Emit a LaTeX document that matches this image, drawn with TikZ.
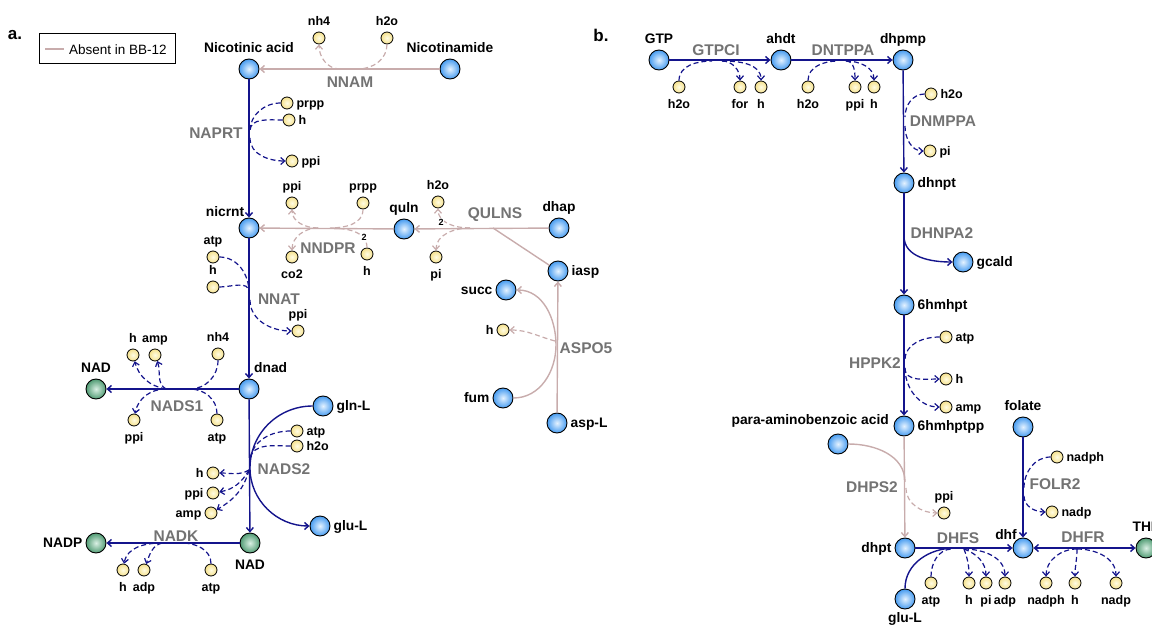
\documentclass[tikz,border=0pt]{standalone}
\usepackage{fontspec}
\setmainfont{Liberation Sans}
\usetikzlibrary{arrows.meta}
\definecolor{navyl}{RGB}{20,20,140}
\definecolor{pinkl}{RGB}{200,172,172}
\definecolor{enzg}{RGB}{115,115,115}
\definecolor{bin}{RGB}{228,242,255}
\definecolor{bout}{RGB}{70,155,240}
\definecolor{gin}{RGB}{218,240,228}
\definecolor{gout}{RGB}{80,155,115}
\definecolor{yin}{RGB}{255,252,228}
\definecolor{yout}{RGB}{245,225,140}
\begin{document}
\begin{tikzpicture}[x=1pt,y=-1pt,
  met/.style={circle,draw=black,line width=0.9pt,minimum size=20pt,inner sep=0pt,shading=radial,inner color=bin,outer color=bout},
  gmet/.style={met,inner color=gin,outer color=gout},
  cof/.style={circle,draw=black,line width=0.8pt,minimum size=12pt,inner sep=0pt,shading=radial,inner color=yin,outer color=yout},
  slab/.style={font=\fontsize{12.5}{14}\selectfont\bfseries,text height=9pt,text depth=0.5pt,inner sep=1pt},
  mlab/.style={font=\fontsize{13.8}{16}\selectfont\bfseries,text height=10pt,text depth=0.5pt,inner sep=1pt},
  side/.style={label distance=2pt},
  label distance=4.5pt,
  enz/.style={font=\fontsize{15.5}{17}\selectfont\bfseries,text=enzg,inner sep=0pt},
  num/.style={font=\fontsize{9}{10}\selectfont\bfseries,inner sep=0.5pt,fill=white},
  rx/.style={draw=navyl,line width=1.4pt},
  rxp/.style={draw=pinkl,line width=1.4pt},
  ds/.style={draw=navyl,line width=1.2pt,dash pattern=on 5pt off 3pt},
  dsp/.style={draw=pinkl,line width=1.2pt,dash pattern=on 5pt off 3pt},
  ar/.style={-{Straight Barb[length=4pt,width=7pt]}},
  ar2/.style={{Straight Barb[length=4pt,width=7pt]}-{Straight Barb[length=4pt,width=7pt]}},
]
\useasboundingbox (0,0) rectangle (1152,626);

% ---------------- panel a ----------------
\node[font=\fontsize{17}{19}\selectfont\bfseries] (pa) at (15,35) {a.};
\node[draw=black,line width=1pt,minimum width=136pt,minimum height=30pt,inner sep=0pt] (legend) at (107,48.5) {};
\coordinate (lg1) at (45,49);
\coordinate (lg2) at (64,49);
\draw[rxp,line width=2.2pt] (lg1) -- (lg2);
\node[font=\fontsize{13.5}{15}\selectfont,anchor=west,inner sep=0pt] (legtxt) at (69,49.5) {Absent in BB-12};

% metabolites
\node[met,label={[mlab]above:Nicotinic acid}] (nac) at (249,69) {};
\node[met,label={[mlab]above:Nicotinamide}] (nam) at (450,69) {};
\node[met] (nicrnt) at (249,228) {};
\node[mlab,anchor=base] (nicrnt_t) at (225,216.5) {nicrnt};
\node[met,label={[mlab]above:quln}] (quln) at (404,229) {};
\node[met,label={[mlab]above:dhap}] (dhap) at (559,228) {};
\node[met,label={[mlab,side]right:iasp}] (iasp) at (558,271) {};
\node[met,label={[mlab,side]left:succ}] (succ) at (506,290) {};
\node[met,label={[mlab,side]left:fum}] (fum) at (503,398) {};
\node[met,label={[mlab,side]right:asp-L}] (aspL) at (557,423) {};
\node[met] (dnad) at (249,389) {};
\node[mlab,anchor=base west] (dnad_t) at (253,372) {dnad};
\node[gmet,label={[mlab]above:NAD}] (NADa) at (96,389) {};
\node[met,label={[mlab,side]right:gln-L}] (glnL) at (323,406) {};
\node[met,label={[mlab,side]right:glu-L}] (gluL) at (320,526) {};
\node[gmet,label={[mlab]below:NAD}] (NADb) at (250,543) {};
\node[gmet,label={[mlab,side]left:NADP}] (NADP) at (96,543) {};

% cofactors
\node[cof,label={[slab]above:nh4}] (nnam_nh4) at (319,38) {};
\node[cof,label={[slab]above:h2o}] (nnam_h2o) at (387,38) {};
\node[cof,label={[slab,side]right:prpp}] (naprt_prpp) at (287,103) {};
\node[cof,label={[slab,side]right:h}] (naprt_h) at (289,120) {};
\node[cof,label={[slab,side]right:ppi}] (naprt_ppi) at (292,161) {};
\node[cof,label={[slab]above:ppi}] (nndpr_ppi) at (292,203) {};
\node[cof,label={[slab]above:prpp}] (nndpr_prpp) at (363,203) {};
\node[cof,label={[slab]below:co2}] (nndpr_co2) at (292,257) {};
\node[cof,label={[slab]below:h}] (nndpr_h) at (367,254) {};
\node[cof,label={[slab]above:h2o}] (qulns_h2o) at (438,202) {};
\node[cof,label={[slab]below:pi}] (qulns_pi) at (436,257) {};
\node[cof,label={[slab]above:atp}] (nnat_atp) at (213,257) {};
\node[cof,label={[slab]above:h}] (nnat_h) at (213,287) {};
\node[cof,label={[slab]above:ppi}] (nnat_ppi) at (298,331) {};
\node[cof,label={[slab]above:h}] (nads1_h) at (133,355) {};
\node[cof,label={[slab]above:amp}] (nads1_amp) at (155,355) {};
\node[cof,label={[slab]above:nh4}] (nads1_nh4) at (218,354) {};
\node[cof,label={[slab]below:ppi}] (nads1_ppi) at (134,420) {};
\node[cof,label={[slab]below:atp}] (nads1_atp) at (217,420) {};
\node[cof,label={[slab,side]right:atp}] (nads2_atp) at (297,431) {};
\node[cof,label={[slab,side]right:h2o}] (nads2_h2o) at (297,446) {};
\node[cof,label={[slab,side]left:h}] (nads2_h) at (213,473) {};
\node[cof,label={[slab,side]left:ppi}] (nads2_ppi) at (213,493) {};
\node[cof,label={[slab,side]left:amp}] (nads2_amp) at (211,513) {};
\node[cof,label={[slab]below:h}] (nadk_h) at (123,570) {};
\node[cof,label={[slab]below:adp}] (nadk_adp) at (144,570) {};
\node[cof,label={[slab]below:atp}] (nadk_atp) at (211,570) {};
\node[cof,label={[slab,side]left:h}] (aspo_h) at (503,330) {};

% enzymes
\node[enz] (e_nnam) at (350,82) {NNAM};
\node[enz] (e_naprt) at (216,133) {NAPRT};
\node[enz] (e_nndpr) at (328,248) {NNDPR};
\node[enz] (e_qulns) at (495,215) {QULNS};
\node[enz] (e_nnat) at (279,299) {NNAT};
\node[enz] (e_aspo) at (586,348) {ASPO5};
\node[enz] (e_nads1) at (177,406) {NADS1};
\node[enz] (e_nads2) at (284,469) {NADS2};
\node[enz] (e_nadk) at (176,536) {NADK};

% NNAM
\draw[rxp,ar] (nam) -- (nac);
\coordinate (nnam_in) at (358,69);
\coordinate (nnam_out) at (340,69);
\draw[dsp] (nnam_h2o) to[out=270,in=0] (nnam_in);
\draw[dsp,ar] (nnam_out) to[out=180,in=270] (nnam_nh4);
% NAPRT
\draw[rx,ar] (nac) -- (nicrnt);
\coordinate (naprt_in) at (250,131);
\coordinate (naprt_out) at (250,138);
\draw[ds] (naprt_prpp) to[out=180,in=90] (naprt_in);
\draw[ds] (naprt_h) to[out=180,in=90] (naprt_in);
\draw[ds,ar] (naprt_out) to[out=270,in=180] (naprt_ppi);
% NNDPR
\draw[rxp,ar] (quln) -- (nicrnt);
\coordinate (nndpr_in) at (330,228);
\coordinate (nndpr_out) at (318,228);
\draw[dsp] (nndpr_prpp) to[out=270,in=0] (nndpr_in);
\draw[dsp] (nndpr_h) to[out=90,in=0] (nndpr_in);
\draw[dsp,ar] (nndpr_out) to[out=180,in=270] (nndpr_ppi);
\draw[dsp,ar] (nndpr_out) to[out=180,in=90] (nndpr_co2);
\node[num] (nndpr_2) at (364,237) {2};
% QULNS
\draw[rxp,ar] (dhap) -- (quln);
\coordinate (qulns_j) at (493,228);
\draw[rxp] (iasp) -- (qulns_j);
\coordinate (qulns_out) at (470,228);
\draw[dsp,ar] (qulns_out) to[out=180,in=270] (qulns_h2o);
\draw[dsp,ar] (qulns_out) to[out=180,in=90] (qulns_pi);
\node[num] (qulns_2) at (441,222) {2};
% NNAT
\draw[rx,ar] (nicrnt) -- (dnad);
\coordinate (nnat_in) at (249,292);
\coordinate (nnat_out) at (250,300);
\draw[ds] (nnat_atp) to[out=0,in=90] (nnat_in);
\draw[ds] (nnat_h) to[out=0,in=90] (nnat_in);
\draw[ds,ar] (nnat_out) to[out=270,in=180] (nnat_ppi);
% NADS1
\draw[rx,ar] (dnad) -- (NADa);
\coordinate (nads1_in) at (190,389);
\coordinate (nads1_out) at (166,389);
\draw[ds] (nads1_nh4) to[out=270,in=0] (nads1_in);
\draw[ds] (nads1_atp) to[out=90,in=0] (nads1_in);
\draw[ds,ar] (nads1_out) to[out=170,in=285] (nads1_h);
\draw[ds,ar] (nads1_out) to[out=150,in=290] (nads1_amp);
\draw[ds,ar] (nads1_out) to[out=180,in=80] (nads1_ppi);
% NADS2
\draw[rx,ar] (dnad) -- (NADb);
\coordinate (nads2_j) at (250,468);
\draw[rx] (glnL) to[out=180,in=90] (nads2_j);
\draw[rx,ar] (nads2_j) to[out=270,in=180] (gluL);
\coordinate (nads2_in) at (250,459);
\coordinate (nads2_out) at (249,470);
\draw[ds] (nads2_atp) to[out=180,in=80] (nads2_in);
\draw[ds] (nads2_h2o) to[out=180,in=80] (nads2_in);
\draw[ds,ar] (nads2_out) to[out=210,in=0] (nads2_h);
\draw[ds,ar] (nads2_out) to[out=240,in=10] (nads2_ppi);
\draw[ds,ar] (nads2_out) to[out=255,in=30] (nads2_amp);
% NADK
\draw[rx,ar] (NADb) -- (NADP);
\coordinate (nadk_in) at (182,543);
\coordinate (nadk_out) at (162,543);
\draw[ds] (nadk_atp) to[out=90,in=0] (nadk_in);
\draw[ds,ar] (nadk_out) to[out=180,in=80] (nadk_h);
\draw[ds,ar] (nadk_out) to[out=195,in=70] (nadk_adp);
% ASPO5
\draw[rxp,ar] (aspL) -- (iasp);
\coordinate (aspo_mid) at (556,345);
\draw[rxp,ar] (fum) to[out=0,in=270] (aspo_mid) to[out=90,in=0] (succ);
\coordinate (aspo_out) at (555,341);
\draw[dsp,ar] (aspo_out) to[out=165,in=0] (aspo_h);

% ---------------- panel b ----------------
\node[font=\fontsize{17}{19}\selectfont\bfseries] (pb) at (601,35) {b.};
\node[met,label={[mlab]above:GTP}] (GTP) at (659,60) {};
\node[met,label={[mlab]above:ahdt}] (ahdt) at (781,60) {};
\node[met,label={[mlab]above:dhpmp}] (dhpmp) at (903,60) {};
\node[met,label={[mlab,side]right:dhnpt}] (dhnpt) at (904,183) {};
\node[met,label={[mlab,side]right:gcald}] (gcald) at (963,262) {};
\node[met,label={[mlab,side]right:6hmhpt}] (hmhpt) at (904,305) {};
\node[met,label={[mlab,side]right:6hmhptpp}] (hmhptpp) at (904,426) {};
\node[met,label={[mlab]above:folate}] (folate) at (1023,427) {};
\node[met] (paba) at (838,444) {};
\node[mlab,anchor=base east] (paba_t) at (890,424.5) {para-aminobenzoic acid};
\node[met,label={[mlab,side]left:dhpt}] (dhpt) at (905,548) {};
\node[met] (dhf) at (1023,548) {};
\node[mlab,anchor=base] (dhf_t) at (1006,539) {dhf};
\node[gmet,label={[mlab]above:THF}] (THF) at (1146,548) {};
\node[met,label={[mlab,label distance=1.5pt]below:glu-L}] (gluLb) at (905,599) {};

\node[cof,label={[slab]below:h2o}] (gtpci_h2o) at (679,87) {};
\node[cof,label={[slab]below:for}] (gtpci_for) at (740,87) {};
\node[cof,label={[slab]below:h}] (gtpci_h) at (761,87) {};
\node[cof,label={[slab]below:h2o}] (dntppa_h2o) at (808,87) {};
\node[cof,label={[slab]below:ppi}] (dntppa_ppi) at (855,87) {};
\node[cof,label={[slab]below:h}] (dntppa_h) at (874,87) {};
\node[cof,label={[slab,side]right:h2o}] (dnmppa_h2o) at (931,94) {};
\node[cof,label={[slab,side]right:pi}] (dnmppa_pi) at (930,151) {};
\node[cof,label={[slab,side]right:atp}] (hppk_atp) at (946,337) {};
\node[cof,label={[slab,side]right:h}] (hppk_h) at (946,379) {};
\node[cof,label={[slab,side]right:amp}] (hppk_amp) at (946,407) {};
\node[cof,label={[slab]above:ppi}] (dhps_ppi) at (944,513) {};
\node[cof,label={[slab,side]right:nadph}] (folr_nadph) at (1057,457) {};
\node[cof,label={[slab,side]right:nadp}] (folr_nadp) at (1052,512) {};
\node[cof,label={[slab]below:atp}] (dhfs_atp) at (931,583) {};
\node[cof,label={[slab]below:h}] (dhfs_h) at (969,583) {};
\node[cof,label={[slab]below:pi}] (dhfs_pi) at (986,583) {};
\node[cof,label={[slab]below:adp}] (dhfs_adp) at (1005,583) {};
\node[cof,label={[slab]below:nadph}] (dhfr_nadph) at (1046,583) {};
\node[cof,label={[slab]below:h}] (dhfr_h) at (1075,583) {};
\node[cof,label={[slab]below:nadp}] (dhfr_nadp) at (1116,583) {};

\node[enz] (e_gtpci) at (716,50) {GTPCI};
\node[enz] (e_dntppa) at (843,50) {DNTPPA};
\node[enz] (e_dnmppa) at (943,121) {DNMPPA};
\node[enz] (e_dhnpa) at (942,233) {DHNPA2};
\node[enz] (e_hppk) at (875,363) {HPPK2};
\node[enz] (e_dhps) at (872,487) {DHPS2};
\node[enz] (e_dhfs) at (958,538) {DHFS};
\node[enz] (e_folr) at (1055,484) {FOLR2};
\node[enz] (e_dhfr) at (1083,537) {DHFR};

% GTPCI
\draw[rx,ar] (GTP) -- (ahdt);
\coordinate (gtpci_in) at (712,61);
\coordinate (gtpci_out) at (722,61);
\draw[ds] (gtpci_h2o) to[out=90,in=180] (gtpci_in);
\draw[ds,ar] (gtpci_out) to[out=0,in=90] (gtpci_for);
\draw[ds,ar] (gtpci_out) to[out=0,in=90] (gtpci_h);
% DNTPPA
\draw[rx,ar] (ahdt) -- (dhpmp);
\coordinate (dntppa_in) at (838,61);
\coordinate (dntppa_out) at (846,61);
\draw[ds] (dntppa_h2o) to[out=90,in=180] (dntppa_in);
\draw[ds,ar] (dntppa_out) to[out=0,in=90] (dntppa_ppi);
\draw[ds,ar] (dntppa_out) to[out=0,in=90] (dntppa_h);
% DNMPPA
\draw[rx,ar] (dhpmp) -- (dhnpt);
\coordinate (dnmppa_in) at (905,117);
\coordinate (dnmppa_out) at (905,126);
\draw[ds] (dnmppa_h2o) to[out=180,in=90] (dnmppa_in);
\draw[ds,ar] (dnmppa_out) to[out=270,in=180] (dnmppa_pi);
% DHNPA2
\draw[rx,ar] (dhnpt) -- (hmhpt);
\coordinate (dhnpa_j) at (904,236);
\draw[rx,ar] (dhnpa_j) to[out=270,in=180] (gcald);
% HPPK2
\draw[rx,ar] (hmhpt) -- (hmhptpp);
\coordinate (hppk_in) at (905,360);
\coordinate (hppk_out) at (905,368);
\draw[ds] (hppk_atp) to[out=180,in=90] (hppk_in);
\draw[ds,ar] (hppk_out) to[out=270,in=180] (hppk_h);
\draw[ds,ar] (hppk_out) to[out=270,in=180] (hppk_amp);
% DHPS2
\draw[rxp,ar] (hmhptpp) -- (dhpt);
\coordinate (dhps_j) at (905,482);
\draw[rxp] (paba) to[out=0,in=90] (dhps_j);
\coordinate (dhps_out) at (906,488);
\draw[dsp,ar] (dhps_out) to[out=270,in=180] (dhps_ppi);
% FOLR2
\draw[rx,ar] (folate) -- (dhf);
\coordinate (folr_in) at (1024,488);
\coordinate (folr_out) at (1024,496);
\draw[ds] (folr_nadph) to[out=180,in=90] (folr_in);
\draw[ds,ar] (folr_out) to[out=270,in=180] (folr_nadp);
% DHFS
\draw[rx,ar] (dhpt) -- (dhf);
\coordinate (dhfs_j) at (955,548);
\draw[rx] (gluLb) to[out=90,in=180] (dhfs_j);
\coordinate (dhfs_in) at (952,549);
\coordinate (dhfs_out) at (964,549);
\draw[ds] (dhfs_atp) to[out=90,in=180] (dhfs_in);
\draw[ds,ar] (dhfs_out) to[out=290,in=90] (dhfs_h);
\draw[ds,ar] (dhfs_out) to[out=340,in=90] (dhfs_pi);
\draw[ds,ar] (dhfs_out) to[out=0,in=90] (dhfs_adp);
% DHFR
\draw[rx,ar2] (dhf) -- (THF);
\coordinate (dhfr_j) at (1077,549);
\draw[ds,ar] (dhfr_j) to[out=180,in=90] (dhfr_nadph);
\draw[ds,ar] (dhfr_j) to[out=270,in=90] (dhfr_h);
\draw[ds,ar] (dhfr_j) to[out=0,in=90] (dhfr_nadp);
\end{tikzpicture}
\end{document}
